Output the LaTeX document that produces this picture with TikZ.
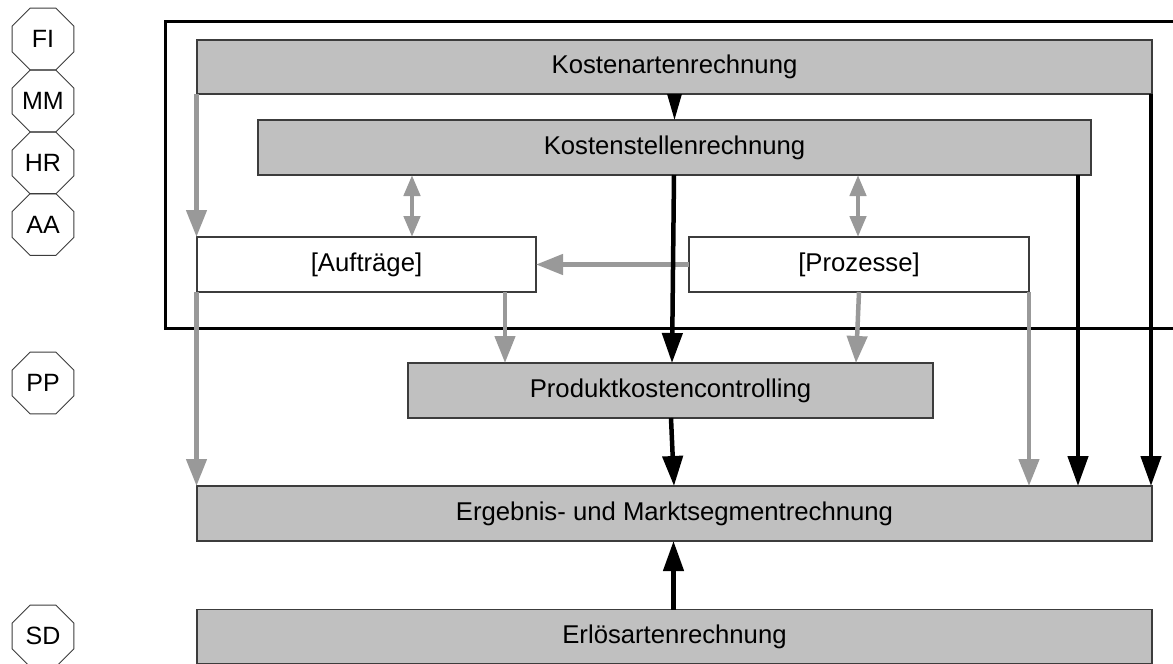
\documentclass[tikz,border=0pt]{standalone}
\usepackage{fontspec}
\setmainfont{Liberation Sans}
\usetikzlibrary{arrows.meta,shapes.geometric}
\definecolor{boxfill}{HTML}{C0C0C0}
\definecolor{boxline}{HTML}{3C3C3C}
\definecolor{arrgray}{HTML}{999999}
\tikzset{
  box/.style={draw=boxline, line width=1.1pt, fill=boxfill, inner sep=0pt, outer sep=0pt,
    font=\fontsize{25.7}{30}\selectfont},
  wbox/.style={box, fill=white},
  oct/.style={draw=boxline, line width=1pt, regular polygon, regular polygon sides=8,
    minimum size=67pt, inner sep=0pt, font=\fontsize{25}{30}\selectfont},
  garrow/.style={draw=arrgray, line width=4.5pt, -{Triangle[width=20pt,length=27pt]}},
  gdouble/.style={draw=arrgray, line width=4.5pt, {Triangle[width=16pt,length=21pt]}-{Triangle[width=16pt,length=21pt]}},
  barrow/.style={draw=black, line width=4.5pt, -{Triangle[width=20pt,length=30pt]}},
  bsmall/.style={draw=black, line width=3pt, -{Triangle[width=14pt,length=26pt]}},
  frameline/.style={draw=black, line width=3pt},
}
\begin{document}
\begin{tikzpicture}[x=1pt,y=-1pt]
\useasboundingbox (0,0) rectangle (1173,664);
% frame (right side lies outside the picture)
\coordinate (f1) at (1180,21);
\coordinate (f2) at (165,21);
\coordinate (f3) at (165,328);
\coordinate (f4) at (1180,328);
\draw[frameline] (f1) -- (f2) -- (f3) -- (f4);
% octagons
\node[oct] (fi) at (43,39) {FI};
\node[oct] (mm) at (43,101) {MM};
\node[oct] (hr) at (43,163) {HR};
\node[oct] (aa) at (43,224.5) {AA};
\node[oct] (pp) at (43,383) {PP};
\node[oct] (sd) at (43,636) {SD};
% boxes
\node[box, minimum width=955pt, minimum height=54pt] (ka) at (674.5,67) {Kostenartenrechnung};
\node[box, minimum width=833pt, minimum height=55pt] (ks) at (674.5,147.5) {Kostenstellenrechnung};
\node[wbox, minimum width=339pt, minimum height=55pt] (au) at (366.5,264.5) {[Aufträge]};
\node[wbox, minimum width=340pt, minimum height=55pt] (pr) at (859,264.5) {[Prozesse]};
\node[box, minimum width=525pt, minimum height=55pt] (pk) at (670.5,390.5) {Produktkostencontrolling};
\node[box, minimum width=955pt, minimum height=55pt] (em) at (674.5,513.5) {Ergebnis- und Marktsegmentrechnung};
\node[box, minimum width=955pt, minimum height=54pt] (ea) at (674.5,636.5) {Erlösartenrechnung};
% connectors
\draw[bsmall] (ka.south) -- (ks.north);
\draw[garrow] ([xshift=-0.5pt]ka.south west) -- ([xshift=-0.5pt]au.north west);
\draw[gdouble] ([xshift=-262.5pt]ks.south) -- ([xshift=45.5pt]au.north);
\draw[gdouble] ([xshift=183.5pt]ks.south) -- ([xshift=-1pt]pr.north);
\draw[garrow] (pr.west) -- (au.east);
\draw[barrow] ([xshift=-0.5pt]ks.south) -- ([xshift=1.5pt]pk.north);
\draw[barrow] ([xshift=403.5pt]ks.south) -- ([xshift=403.5pt]em.north);
\draw[barrow] ([xshift=-1pt]ka.south east) -- ([xshift=-1pt]em.north east);
\draw[garrow] ([xshift=-0.5pt]au.south west) -- ([xshift=-0.5pt]em.north west);
\draw[garrow] ([xshift=138.5pt]au.south) -- ([xshift=-165.5pt]pk.north);
\draw[garrow] (pr.south) -- ([xshift=185.5pt]pk.north);
\draw[garrow] (pr.south east) -- ([xshift=354.5pt]em.north);
\draw[barrow] ([xshift=0.5pt]pk.south) -- ([xshift=-0.5pt]em.north);
\draw[barrow] ([xshift=-1pt]ea.north) -- ([xshift=-1pt]em.south);
\end{tikzpicture}
\end{document}
